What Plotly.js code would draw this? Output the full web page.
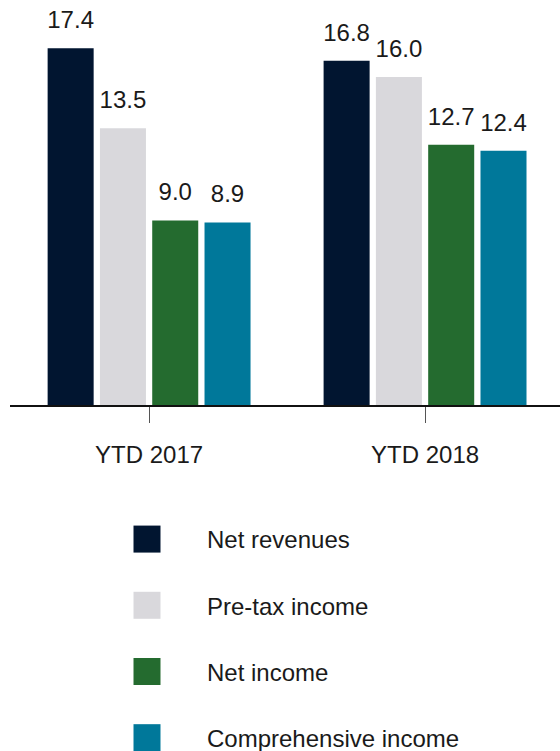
<!DOCTYPE html>
<html>
<head>
<meta charset="utf-8">
<script src="https://cdn.plot.ly/plotly-3.0.1.min.js"></script>
<style>html,body{margin:0;padding:0;background:#fff;}#chart{width:560px;height:751px;}</style>
</head>
<body>
<div id="chart"></div>
<script>
const categories = ["YTD 2017", "YTD 2018"];
const seriesNames = ["Net revenues", "Pre-tax income", "Net income", "Comprehensive income"];
const netRevenues = [17.4, 16.8];
const preTaxIncome = [13.5, 16.0];
const netIncome = [9.0, 12.7];
const comprehensiveIncome = [8.9, 12.4];
const seriesColors = ["#011530", "#d9d8dc", "#246b2f", "#00789a"];

const seriesValues = [netRevenues, preTaxIncome, netIncome, comprehensiveIncome];
const FONT = "Arial, 'Liberation Sans', sans-serif";
const FS = 24;

const traces = [];
seriesValues.forEach((vals, i) => {
  traces.push({
    type: "bar",
    x: categories,
    y: vals,
    name: seriesNames[i],
    marker: {color: seriesColors[i]},
    legendgroup: "g" + i,
    offsetgroup: "o" + i,
    hoverinfo: "skip"
  });
});
seriesValues.forEach((vals, i) => {
  traces.push({
    type: "scatter",
    mode: "markers+text",
    orientation: "v",
    x: categories,
    y: vals,
    text: vals.map(v => v.toFixed(1)),
    textposition: "top center",
    textfont: {size: FS, color: "#1a1a1a", family: FONT},
    marker: {size: 21, opacity: 0},
    offsetgroup: "o" + i,
    showlegend: false,
    cliponaxis: false,
    hoverinfo: "skip"
  });
});

const layout = {
  width: 560,
  height: 751,
  margin: {l: 10, r: 0, t: 0, b: 346, autoexpand: false},
  paper_bgcolor: "#fff",
  plot_bgcolor: "#fff",
  font: {family: FONT, size: FS, color: "#1a1a1a"},
  barmode: "group",
  bargap: 0.242,
  bargroupgap: 0.12,
  scattermode: "group",
  scattergap: 0.242,
  showlegend: true,
  legend: {
    orientation: "v",
    traceorder: "grouped",
    tracegroupgap: 32,
    x: 0.14,
    xanchor: "left",
    y: -0.2765,
    yanchor: "top",
    itemwidth: 110,
    font: {size: FS, color: "#1a1a1a", family: FONT},
    bgcolor: "rgba(0,0,0,0)"
  },
  xaxis: {
    type: "category",
    range: [-0.504, 1.489],
    showline: true,
    linecolor: "#111",
    linewidth: 2,
    ticks: "outside",
    ticklen: 16,
    tickwidth: 1,
    tickcolor: "#555",
    ticklabelstandoff: 11,
    showgrid: false,
    zeroline: false,
    tickfont: {size: FS, color: "#1a1a1a", family: FONT},
    fixedrange: true
  },
  yaxis: {
    range: [0, 19.76],
    visible: false,
    showgrid: false,
    zeroline: false,
    fixedrange: true
  }
};

Plotly.newPlot("chart", traces, layout, {displayModeBar: false, staticPlot: true}).then(gd => {
  gd.querySelectorAll(".legend .legendpoints path").forEach(p => {
    p.setAttribute("d", "M13.5,13.5H-13.5V-13.5H13.5Z");
  });
});
</script>
</body>
</html>
